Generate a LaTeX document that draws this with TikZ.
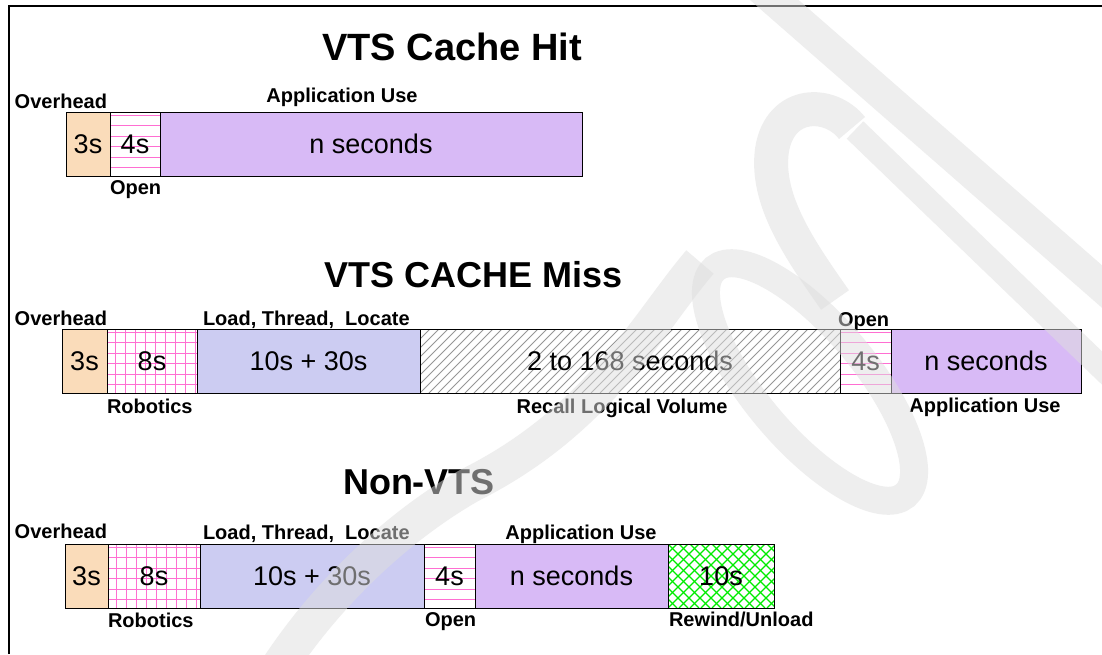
\documentclass[tikz,border=0pt]{standalone}
\usepackage{fontspec}
\setmainfont{Liberation Sans}

\definecolor{peach}{RGB}{250,220,186}
\definecolor{bluebg}{RGB}{204,204,242}
\definecolor{lav}{RGB}{216,186,246}
\definecolor{pinkline}{RGB}{255,110,210}
\definecolor{hatchgray}{RGB}{150,150,150}
\definecolor{meshgreen}{RGB}{0,235,0}
\definecolor{wmgray}{RGB}{222,222,222}

\newcommand\segfont{\fontsize{27}{30}\selectfont}
\newcommand\labfont{\fontsize{20}{22}\selectfont\bfseries}
\newcommand\ttlfont{\fontsize{36}{40}\selectfont\bfseries}

% segment textures: #1 left x, #2 right x, #3 top y (segments are 64 high)
% pink rules are laid down as thin filled strips
\newcommand\texHrules[3]{%
  \foreach \k in {0,...,5}
    \fill[fill=pinkline] (#1,#3+2.5+\k*10.5) rectangle (#2,#3+3.5+\k*10.5);}
\newcommand\texGrid[3]{%
  \texHrules{#1}{#2}{#3}%
  \foreach \k in {0,...,8}
    \fill[fill=pinkline] (#1+7.5+\k*10,#3) rectangle (#1+8.5+\k*10,#3+64);}
\newcommand\texSlash[3]{\begin{scope}\clip (#1,#3) rectangle (#2,#3+64);
  \foreach \k in {-8,...,48}
    \draw[draw=hatchgray, line width=0.8pt] (#1+\k*9,#3+64) -- ++(64,-64);
  \end{scope}}
\newcommand\texMesh[3]{\begin{scope}\clip (#1,#3) rectangle (#2,#3+64);
  \foreach \k in {-7,...,10}{
    \draw[draw=meshgreen, line width=1.3pt] (#1+\k*11,#3+64) -- ++(64,-64);
    \draw[draw=meshgreen, line width=1.3pt] (#1+\k*11,#3) -- ++(64,64);}
  \end{scope}}

\tikzset{
  seg/.style={draw=black, line width=1pt, minimum height=64, inner sep=0pt,
              outer sep=0pt, anchor=north west, font=\segfont},
  lab/.style={font=\labfont, inner sep=0pt, outer sep=0pt},
  ttl/.style={font=\ttlfont, inner sep=0pt, outer sep=0pt, anchor=base},
  wm/.style={draw=wmgray, draw opacity=0.5, line cap=butt},
}

\begin{document}
\begin{tikzpicture}[x=1pt, y=-1pt]
\useasboundingbox (0,0) rectangle (1102,654);
\fill[white] (0,0) rectangle (1102,654);

% page frame (top and left rules)
\draw[line width=2pt] (9,654) -- (9,6) -- (1102,6);

% ---------------- segment backgrounds and textures ----------------
\fill[fill=peach] (66,112) rectangle (110,176);
\texHrules{110}{160}{112}
\fill[fill=lav] (160,112) rectangle (582,176);

\fill[fill=peach] (62,329) rectangle (107,393);
\texGrid{107}{197}{329}
\fill[fill=bluebg] (197,329) rectangle (420,393);
\texSlash{420}{840}{329}
\texHrules{840}{891}{329}
\fill[fill=lav] (891,329) rectangle (1081,393);

\fill[fill=peach] (65,544) rectangle (108,608);
\texGrid{108}{200}{544}
\fill[fill=bluebg] (200,544) rectangle (424,608);
\texHrules{424}{475}{544}
\fill[fill=lav] (475,544) rectangle (668,608);
\texMesh{668}{774}{544}

% ---------------- VTS cache hit ----------------
\node[ttl, font=\fontsize{38}{42}\selectfont\bfseries] (t1) at (452,60) {VTS Cache Hit};
\node[seg, minimum width=44] (r1o) at (66,112) {3s};
\node[seg, minimum width=50] (r1p) at (110,112) {4s};
\node[seg, minimum width=422] (r1a) at (160,112) {n seconds};
\node[lab, anchor=base east] (r1lo) at (107,108) {Overhead};
\node[lab, anchor=base] (r1la) at (342,102) {Application Use};
\node[lab, anchor=base west] (r1lp) at (110,194) {Open};

% ---------------- VTS cache miss ----------------
\node[ttl] (t2) at (474,287) {VTS CACHE Miss};
\node[seg, minimum width=45] (r2o) at (62,329) {3s};
\node[seg, minimum width=90] (r2r) at (107,329) {8s};
\node[seg, minimum width=223] (r2l) at (197,329) {10s + 30s};
\node[seg, minimum width=420] (r2v) at (420,329) {2 to 168 seconds};
\node[seg, minimum width=51] (r2p) at (840,329) {4s};
\node[seg, minimum width=190] (r2a) at (891,329) {n seconds};
\node[lab, anchor=base east] (r2lo) at (107,325) {Overhead};
\node[lab, anchor=base west] (r2ll) at (203,325) {Load, Thread,\ \ Locate};
\node[lab, anchor=base west] (r2lp) at (838,326) {Open};
\node[lab, anchor=base west] (r2lr) at (107,413) {Robotics};
\node[lab, anchor=base] (r2lv) at (622,413) {Recall Logical Volume};
\node[lab, anchor=base] (r2la) at (985,412) {Application Use};

% ---------------- Non-VTS ----------------
\node[ttl] (t3) at (419,494) {Non-VTS};
\node[seg, minimum width=43] (r3o) at (65,544) {3s};
\node[seg, minimum width=92] (r3r) at (108,544) {8s};
\node[seg, minimum width=224] (r3l) at (200,544) {10s + 30s};
\node[seg, minimum width=51] (r3p) at (424,544) {4s};
\node[seg, minimum width=193] (r3a) at (475,544) {n seconds};
\node[seg, minimum width=106] (r3w) at (668,544) {10s};
\node[lab, anchor=base east] (r3lo) at (107,538) {Overhead};
\node[lab, anchor=base west] (r3ll) at (203,539) {Load, Thread,\ \ Locate};
\node[lab, anchor=base] (r3la) at (581,539) {Application Use};
\node[lab, anchor=base west] (r3lr) at (108,627) {Robotics};
\node[lab, anchor=base west] (r3lp) at (425,626) {Open};
\node[lab, anchor=base west] (r3lw) at (669,626) {Rewind/Unload};

% faint lettering strokes across the page
\draw[wm, line width=32] (740,-30) -- (1130,311);
\draw[wm, line width=24] (1130,395) -- (855,130);
\draw[wm, line width=34] (852,128) .. controls (830,100) and (780,100) .. (772,150)
   .. controls (765,200) and (800,250) .. (835,300);
\draw[wm, line width=28, rotate around={-50:(810,382)}] (810,382) ellipse [x radius=148, y radius=55];
\draw[wm, line width=36] (700,262) .. controls (650,320) and (600,420) .. (470,485)
   .. controls (400,525) and (330,590) .. (280,665);
\end{tikzpicture}
\end{document}
